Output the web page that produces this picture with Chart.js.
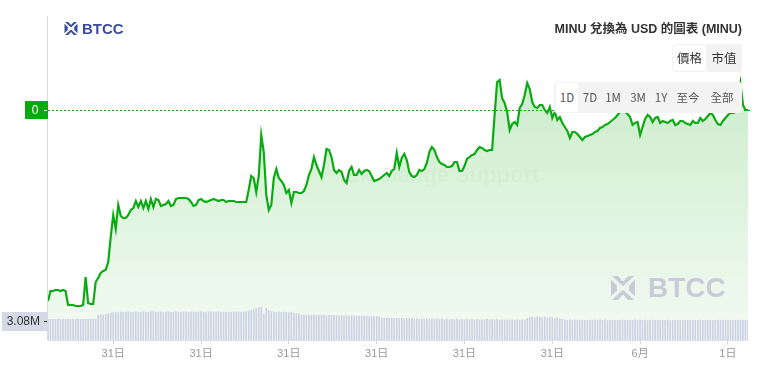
<!DOCTYPE html>
<html>
<head>
<meta charset="utf-8">
<script src="https://cdn.jsdelivr.net/npm/chart.js"></script>
<style>
  html, body { margin: 0; padding: 0; background: #fff; }
  #wrap { position: relative; width: 760px; height: 375px; overflow: hidden; font-family: 'Liberation Sans', 'Noto Sans CJK TC', sans-serif; }
  #c { position: absolute; left: 0; top: 0; }
  .abs { position: absolute; }
  #logo { left: 64px; top: 19px; height: 18px; display: flex; align-items: center; color: #3b4b9c; font-weight: bold; font-size: 15px; }
  #logo svg { margin-right: 4px; }
  #wm { left: 611px; top: 272px; display: flex; align-items: center; color: #c6cdd8; font-weight: bold; font-size: 28px; }
  #wm svg { margin-right: 13px; }
  #wm2 { left: 345px; top: 162px; color: rgba(0,0,0,0.018); font-weight: bold; font-size: 22px; white-space: nowrap; }
  #title { right: 18px; top: 18px; font-size: 12.5px; font-weight: bold; color: #333; white-space: nowrap; font-family: 'Liberation Sans', 'Noto Sans CJK TC', sans-serif; }
  #toggle { left: 672px; top: 44px; width: 70px; height: 28px; background: #f2f2f2; border-radius: 3px; font-family: 'Noto Sans CJK TC', sans-serif; font-size: 12.5px; color: #333; }
  #toggle span { position: absolute; top: 0; height: 28px; line-height: 28px; text-align: center; }
  #range { left: 554px; top: 82px; width: 188px; height: 31px; background: #f3f3f3; border-radius: 3px; font-family: 'Noto Sans CJK TC', sans-serif; font-size: 11.5px; color: #555; }
  #range span { position: absolute; top: 0; height: 31px; line-height: 31px; text-align: center; transform: translateX(-50%); white-space: nowrap; }
</style>
</head>
<body>
<div id="wrap">
  <canvas id="c" width="760" height="375"></canvas>
  <div id="wm2" class="abs">Exchange Support</div>
  <div id="wm" class="abs">
    <svg width="24" height="26" viewBox="0 0 14 14"><g fill="#c6cdd8">
      <polygon points="0.5,0 4,0 7,3.2 10,0 13.5,0 7,6"/>
      <polygon points="0.5,14 4,14 7,10.8 10,14 13.5,14 7,8"/>
      <polygon points="0,2 3.5,5.5 3.5,8.5 0,12"/>
      <polygon points="14,2 10.5,5.5 10.5,8.5 14,12"/>
    </g></svg>BTCC</div>
  <div id="logo" class="abs">
    <svg width="14" height="13" viewBox="0 0 14 14"><g fill="#3b4b9c">
      <polygon points="0.5,0 4,0 7,3.2 10,0 13.5,0 7,6"/>
      <polygon points="0.5,14 4,14 7,10.8 10,14 13.5,14 7,8"/>
      <polygon points="0,2 3.5,5.5 3.5,8.5 0,12"/>
      <polygon points="14,2 10.5,5.5 10.5,8.5 14,12"/>
    </g></svg>BTCC</div>
  <div id="title" class="abs">MINU 兌換為 USD 的圖表 (MINU)</div>
  <div id="toggle" class="abs">
    <span style="left:1px;width:33px;background:#fff;top:1px;height:26px;line-height:26px;">價格</span>
    <span style="left:35px;width:34px;">市值</span>
  </div>
  <div id="range" class="abs">
    <span style="left:2px;width:22px;background:#fff;transform:none;top:1px;height:29px;line-height:29px;">1D</span>
    <span style="left:36px;">7D</span>
    <span style="left:59px;">1M</span>
    <span style="left:84px;">3M</span>
    <span style="left:107px;">1Y</span>
    <span style="left:134px;">至今</span>
    <span style="left:168px;">全部</span>
  </div>
</div>
<script>
// ---- data ----
const tickLabels = ['31日', '31日', '31日', '31日', '31日', '31日', '6月', '1日'];
const tickIndex = [26, 61, 96, 131, 166, 201, 236, 271];

// price (relative units)
const price = [
  39,49,49,50,50,49,50,49,35,35, 35,34,34,34,35,63,37,36,36,58,
  62,67,69,70,78,103,125,111,135,124, 122,122,125,130,132,139,133,139,132,139,
  131,141,133,141,140,134,135,136,139,134, 135,141,142,142,142,142,141,138,134,135,
  140,141,139,138,139,140,141,140,139,140, 140,138,139,139,139,138,138,138,138,138,
  150,164,162,148,164,205,188,145,130,135, 162,171,162,159,155,147,150,137,148,148,
  147,147,149,155,165,171,183,175,169,163, 175,191,190,183,170,167,170,168,160,157,
  169,173,165,165,170,166,169,170,169,164, 159,160,161,163,165,167,164,169,171,187,
  173,182,186,180,168,164,163,165,170,169, 171,177,188,193,190,183,178,176,175,173,
  173,174,178,178,169,169,174,181,183,185, 186,190,193,192,190,189,190,190,225,258,
  260,242,237,228,210,216,218,215,232,236, 245,257,251,238,233,232,235,235,230,227,
  233,222,228,220,223,217,213,209,202,208, 208,206,203,200,203,204,205,206,208,209,
  212,213,215,216,218,220,222,225,228,230, 228,226,223,215,217,218,205,213,221,225,
  223,218,222,223,217,219,218,217,219,220, 215,216,219,219,217,216,215,219,217,217,
  222,219,221,224,227,225,220,216,215,219, 222,225,227,227,228,235,256,235,230,230
];

// volume in millions
const volume = [
  3.28,3.31,3.30,3.29,3.32,3.30,3.28,3.31,3.30,3.29,3.31,3.30,3.32,3.29,3.30,3.31,3.28,3.30,3.31,3.29,
  3.95,4.01,3.98,4.06,4.22,4.31,
  4.40,4.45,4.38,4.50,4.42,4.47,4.52,4.41,4.44,4.49,
  4.39,4.46,4.53,4.43,4.40,4.48,4.51,4.42,4.45,4.50,
  4.37,4.44,4.49,4.41,4.46,4.52,4.43,4.39,4.47,4.50,
  4.42,4.45,4.48,4.40,4.44,4.51,4.43,4.38,4.46,4.49,
  4.41,4.45,4.50,4.42,4.39,4.47,4.44,4.40,4.48,4.43,
  4.46,4.41,4.45,4.52,
  4.62,4.75,4.88,5.02,5.15,5.28,4.20,5.05,
  4.72,4.55,4.48,4.42,4.50,4.38,4.45,4.41,4.36,4.44,4.30,4.25,4.18,
  3.98,4.02,3.95,3.99,3.93,4.00,3.96,3.90,3.94,3.97,
  3.89,3.92,3.95,3.88,3.91,3.86,3.90,3.84,3.88,3.82,
  3.86,3.80,3.84,3.78,3.82,3.76,3.80,3.74,3.78,3.72,3.76,3.70,
  3.50,3.46,3.52,3.44,3.48,3.42,3.47,3.40,3.45,3.38,
  3.43,3.36,3.41,3.35,3.40,3.33,3.38,3.32,3.37,3.30,
  3.35,3.29,3.34,3.28,3.33,3.27,3.32,3.26,3.31,3.25,
  3.30,3.24,3.29,3.23,3.28,3.22,3.27,3.21,3.26,3.20,
  3.25,3.22,3.28,3.21,3.24,3.20,3.26,3.19,3.23,3.21,
  3.25,3.20,3.22,3.19,3.24,3.21,3.23,3.20,
  3.45,3.58,3.66,3.52,3.70,3.61,3.55,3.68,3.49,3.62,3.57,3.44,3.50,3.38,3.30,
  3.18,3.14,3.20,3.12,3.16,3.19,3.13,3.17,3.11,3.15,
  3.19,3.12,3.16,3.14,3.20,3.13,3.17,3.10,3.15,3.18,
  3.12,3.16,3.14,3.19,3.11,3.17,3.13,3.15,3.20,3.12,
  3.16,3.14,3.18,3.11,3.15,3.19,3.13,3.17,3.12,3.16,
  3.14,3.18,3.10,3.15,3.19,3.13,3.16,3.12,3.17,3.14,
  3.18,3.11,3.15,3.13,3.19,3.12,3.16,3.14,3.17,3.10,
  3.15,3.18,3.12,3.16,3.13,3.17,3.11,3.15,3.14,3.18,
  3.12,3.16,3.13,3.08
];

const lastPriceLabel = '0';

// ---- build category table from the tick arrays ----
const labels = price.map(() => '');
tickIndex.forEach((idx, k) => { labels[idx] = tickLabels[k]; });

Chart.defaults.font.family = "'Liberation Sans', 'Noto Sans CJK TC', sans-serif";

const overlay = {
  id: 'overlay',
  afterDraw(chart) {
    const { ctx, chartArea: a, scales } = chart;
    ctx.save();
    // left axis line
    ctx.strokeStyle = '#dadada';
    ctx.lineWidth = 1;
    ctx.beginPath();
    ctx.moveTo(Math.round(a.left) - 0.5, a.top);
    ctx.lineTo(Math.round(a.left) - 0.5, a.bottom);
    ctx.stroke();

    // current price dashed line + label
    const py = Math.round(scales.y.getPixelForValue(price[price.length - 1])) + 0.5;
    ctx.strokeStyle = '#12a812';
    ctx.setLineDash([2, 2]);
    ctx.beginPath();
    ctx.moveTo(a.left, py);
    ctx.lineTo(a.right + 2, py);
    ctx.stroke();
    ctx.setLineDash([]);
    ctx.fillStyle = '#0aa80a';
    ctx.fillRect(a.left - 23, py - 9.5, 23, 18);
    ctx.fillStyle = '#fff';
    ctx.font = '12px "Liberation Sans", sans-serif';
    ctx.textAlign = 'center';
    ctx.textBaseline = 'middle';
    ctx.fillText(lastPriceLabel, a.left - 13, py + 0.5);
    ctx.fillRect(a.left - 4, py - 0.5, 3, 1);

    // last volume label
    const vLast = volume[volume.length - 1];
    const vy = Math.round(scales.yv.getPixelForValue(vLast)) + 0.5;
    ctx.fillStyle = '#d5d9e5';
    ctx.fillRect(2, vy - 9.5, a.left - 2, 19);
    ctx.fillStyle = '#333';
    ctx.textAlign = 'right';
    ctx.fillText(vLast.toFixed(2) + 'M', a.left - 8, vy + 0.5);
    ctx.fillRect(a.left - 4, vy - 0.5, 3, 1);
    ctx.restore();
  }
};

const ctx = document.getElementById('c').getContext('2d');
new Chart(ctx, {
  type: 'bar',
  data: {
    labels: labels,
    datasets: [
      {
        type: 'line',
        data: price,
        yAxisID: 'y',
        borderColor: '#0aab12',
        borderWidth: 2.2,
        pointRadius: 0,
        tension: 0,
        fill: 'start',
        order: 2,
        backgroundColor: (c) => {
          const area = c.chart.chartArea;
          if (!area) return 'rgba(20,170,20,0.15)';
          const g = c.chart.ctx.createLinearGradient(0, area.top + 60, 0, area.bottom);
          g.addColorStop(0, 'rgba(20,170,20,0.22)');
          g.addColorStop(1, 'rgba(20,170,20,0.05)');
          return g;
        }
      },
      {
        type: 'bar',
        data: volume,
        yAxisID: 'yv',
        backgroundColor: '#cbd2e4',
        barThickness: 1,
        order: 1
      }
    ]
  },
  options: {
    responsive: false,
    animation: false,
    devicePixelRatio: 1,
    layout: { padding: { left: 48, right: 12, top: 16, bottom: 0 } },
    plugins: { legend: { display: false }, tooltip: { enabled: false } },
    scales: {
      x: {
        type: 'category',
        offset: false,
        afterBuildTicks: (scale) => {
          scale.ticks = scale.ticks.filter(t => labels[t.value] !== '');
        },
        afterFit: (scale) => { scale.height = 35; },
        grid: { display: true, drawOnChartArea: false, drawTicks: true, tickLength: 4, color: '#d6d6d6', offset: false },
        border: { display: true, color: '#dde2ea' },
        ticks: { autoSkip: false, maxRotation: 0, color: '#999', font: { size: 11 }, padding: 3 }
      },
      y: { display: false, min: 0, max: 324 },
      yv: { display: false, min: 0, max: 51.7 }
    }
  },
  plugins: [overlay]
});
</script>
</body>
</html>
